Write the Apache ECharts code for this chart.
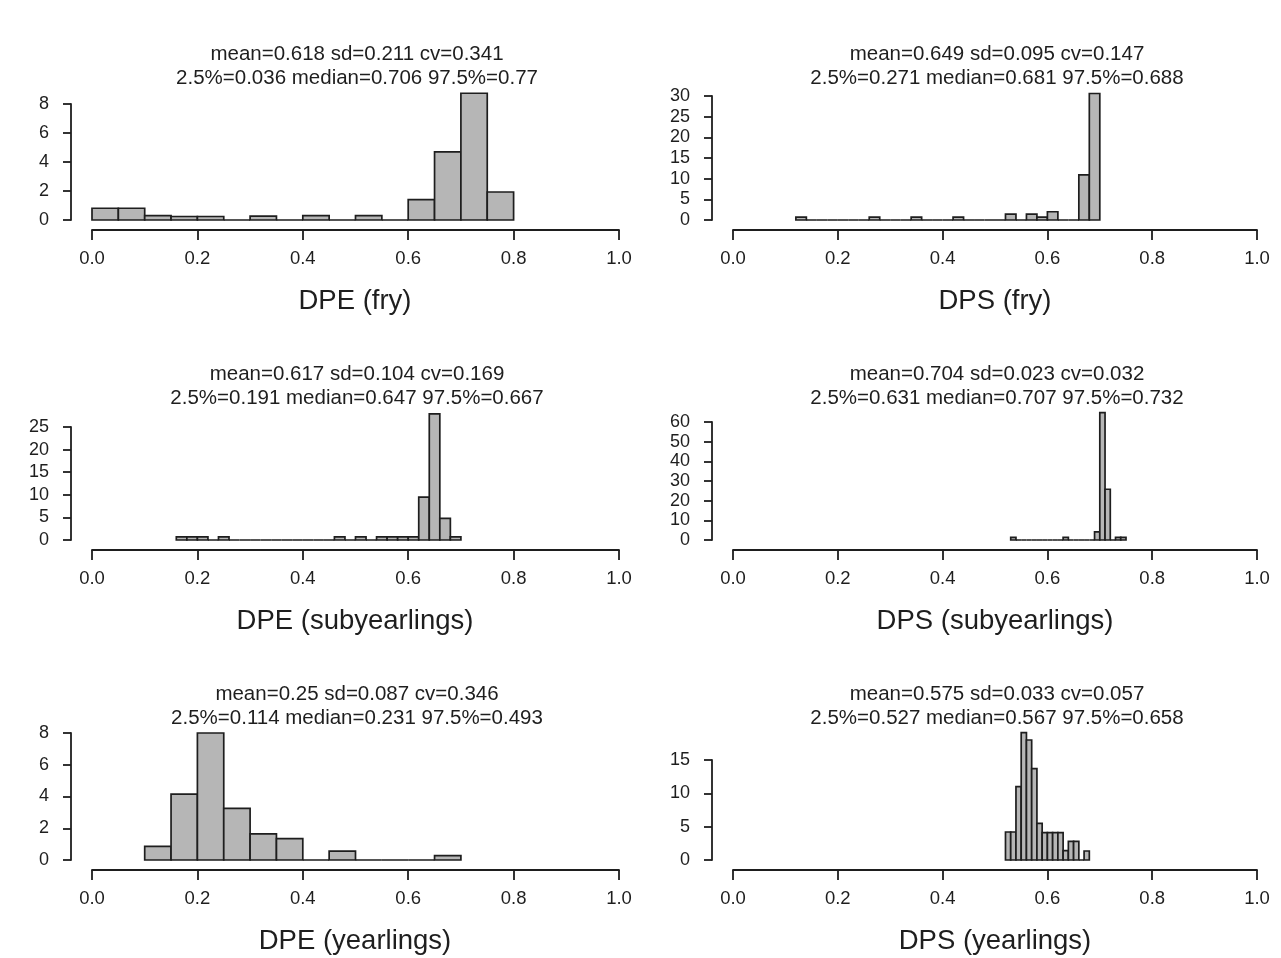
<!DOCTYPE html>
<html>
<head>
<meta charset="utf-8">
<title>DPE / DPS</title>
<script src="https://cdn.jsdelivr.net/npm/echarts@6/dist/echarts.min.js"></script>
<style>
html, body { margin: 0; padding: 0; background: #fff; }
#main { width: 1281px; height: 958px; }
</style>
</head>
<body>
<div id="main"></div>
<script>
// bar heights (density) of each histogram
var dpeFry = [0.81, 0.81, 0.3, 0.24, 0.24, 0, 0.27, 0, 0.3, 0, 0.3, 0, 1.4, 4.7, 8.74, 1.93];
var dpsFry = [0.68, 0, 0, 0, 0, 0, 0, 0.68, 0, 0, 0, 0.68, 0, 0, 0, 0.68, 0, 0, 0, 0, 1.4, 0, 1.4, 0.68, 2.0, 0, 0, 10.9, 30.6];
var dpeSub = [0.68, 0.68, 0.68, 0, 0.68, 0, 0, 0, 0, 0, 0, 0, 0, 0, 0, 0.68, 0, 0.68, 0, 0.68, 0.68, 0.68, 0.68, 9.5, 27.9, 4.8, 0.68];
var dpsSub = [1.35, 0, 0, 0, 0, 0, 0, 0, 0, 0, 1.35, 0, 0, 0, 0, 0, 4.1, 64.8, 25.8, 0, 1.35, 1.35];
var dpeYear = [0.86, 4.15, 8.0, 3.25, 1.65, 1.35, 0, 0.56, 0, 0, 0, 0.27];
var dpsYear = [4.2, 4.2, 11.0, 19.1, 18.0, 13.7, 5.5, 4.1, 4.1, 4.1, 4.1, 1.4, 2.8, 2.8, 0, 1.35];

var heights = [dpeFry, dpsFry, dpeSub, dpsSub, dpeYear, dpsYear];
var binStart = [0, 0.12, 0.16, 0.53, 0.10, 0.52];
var binWidth = [0.05, 0.02, 0.02, 0.01, 0.05, 0.01];

var xNames = ['DPE (fry)', 'DPS (fry)', 'DPE (subyearlings)', 'DPS (subyearlings)', 'DPE (yearlings)', 'DPS (yearlings)'];
var stats1 = [
  'mean=0.618 sd=0.211 cv=0.341',
  'mean=0.649 sd=0.095 cv=0.147',
  'mean=0.617 sd=0.104 cv=0.169',
  'mean=0.704 sd=0.023 cv=0.032',
  'mean=0.25 sd=0.087 cv=0.346',
  'mean=0.575 sd=0.033 cv=0.057'
];
var stats2 = [
  '2.5%=0.036 median=0.706 97.5%=0.77',
  '2.5%=0.271 median=0.681 97.5%=0.688',
  '2.5%=0.191 median=0.647 97.5%=0.667',
  '2.5%=0.631 median=0.707 97.5%=0.732',
  '2.5%=0.114 median=0.231 97.5%=0.493',
  '2.5%=0.527 median=0.567 97.5%=0.658'
];
var yMax = [8, 30, 25, 60, 8, 15];
var yStep = [2, 5, 5, 10, 2, 5];

// layout of each panel (pixel positions)
var cols = [{ left: 92, width: 527, mid: 352 }, { left: 733, width: 524, mid: 992 }];
var rowBase = [220, 540, 860];
var tops = [104, 96, 427, 422, 733, 760];

var font = 'Liberation Sans, Arial, sans-serif';
var ink = '#1e1e1e';

var myChart = echarts.init(document.getElementById('main'));

function renderBin(params, api) {
  var p0 = api.coord([api.value(0), api.value(2)]);
  var p1 = api.coord([api.value(1), 0]);
  return {
    type: 'rect',
    shape: { x: p0[0], y: p0[1], width: p1[0] - p0[0], height: p1[1] - p0[1] },
    style: { fill: '#b6b6b6', stroke: ink, lineWidth: 1.7 }
  };
}

var grid = [], xAxis = [], yAxis = [], series = [], title = [];
for (var i = 0; i < 6; i++) {
  var col = cols[i % 2];
  var y0 = rowBase[Math.floor(i / 2)];
  grid.push({ left: col.left, width: col.width, top: tops[i], height: y0 - tops[i] });

  xAxis.push({
    gridIndex: i, type: 'value', min: 0, max: 1, interval: 0.2, offset: 10,
    axisLine: { onZero: false, lineStyle: { color: ink, width: 1.8 } },
    axisTick: { length: 10, lineStyle: { color: ink, width: 1.8 } },
    axisLabel: { color: ink, fontSize: 18.5, fontFamily: font, margin: 19,
      formatter: function (v) { return v.toFixed(1); } },
    splitLine: { show: false }
  });
  yAxis.push({
    gridIndex: i, type: 'value', min: 0, max: yMax[i], interval: yStep[i], offset: 21,
    axisLine: { show: true, onZero: false, lineStyle: { color: ink, width: 1.8 } },
    axisTick: { show: true, length: 8, lineStyle: { color: ink, width: 1.8 } },
    axisLabel: { color: ink, fontSize: 18, fontFamily: font, margin: 22 },
    splitLine: { show: false }
  });

  var data = heights[i].map(function (h, k) {
    var a = binStart[i] + k * binWidth[i];
    return [a, a + binWidth[i], h];
  });
  series.push({
    type: 'custom', xAxisIndex: i, yAxisIndex: i, clip: false, silent: true,
    renderItem: renderBin, encode: { x: [0, 1], y: 2 }, data: data
  });

  title.push({
    text: stats1[i] + '\n' + stats2[i], left: col.mid, top: y0 - 183, textAlign: 'center',
    textStyle: { color: ink, fontSize: 20.5, fontWeight: 'normal', fontFamily: font, lineHeight: 24 }
  });
  title.push({
    text: xNames[i], left: col.mid - 2, top: y0 + 62, textAlign: 'center',
    textStyle: { color: ink, fontSize: 27.5, fontWeight: 'normal', fontFamily: font }
  });
}

var option = {
  backgroundColor: '#fff',
  animation: false,
  title: title,
  grid: grid,
  xAxis: xAxis,
  yAxis: yAxis,
  series: series
};
myChart.setOption(option);
</script>
</body>
</html>
